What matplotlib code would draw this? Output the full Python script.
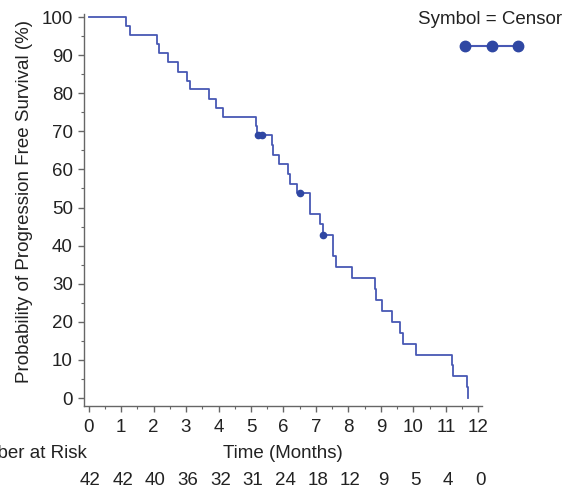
import matplotlib
matplotlib.use("Agg")
import matplotlib.pyplot as plt
import matplotlib.transforms as mtransforms
from matplotlib.lines import Line2D
from matplotlib.ticker import MultipleLocator

plt.rcParams['font.family'] = ['Liberation Sans', 'DejaVu Sans']

# Kaplan-Meier step points (months, % PFS)
times = [0, 1.15, 1.28, 2.10, 2.18, 2.46, 2.74, 3.02, 3.13, 3.70, 3.92, 4.15,
         5.14, 5.20, 5.64, 5.67, 5.86, 6.13, 6.19, 6.41, 6.82, 7.12, 7.22,
         7.51, 7.62, 8.12, 8.82, 8.84, 9.02, 9.34, 9.58, 9.69, 10.07, 11.19,
         11.22, 11.66, 11.69]
surv = [100, 97.6, 95.2, 92.9, 90.5, 88.1, 85.7, 83.3, 81.0, 78.6, 76.2, 73.8,
        71.4, 69.0, 66.4, 63.9, 61.3, 58.8, 56.2, 53.7, 48.3, 45.6, 42.9,
        37.2, 34.3, 31.4, 28.6, 25.7, 22.9, 20.0, 17.1, 14.3, 11.4, 8.6,
        5.7, 2.9, 0]

# censored observations
cens_t = [5.22, 5.33, 6.51, 7.22]
cens_s = [69.0, 69.0, 53.7, 42.9]

# number at risk at each month
risk_months = list(range(13))
at_risk = [42, 42, 40, 36, 32, 31, 24, 18, 12, 9, 5, 4, 0]

line_col = '#4858b4'
mark_col = '#2f47a3'
txt_col = '#222222'
fs = 13.5

fig = plt.figure(figsize=(5.77, 4.90), dpi=100)
ax = fig.add_axes([84 / 577, 1 - 406 / 490, (482 - 84) / 577, (406 - 14) / 490])

ax.step(times, surv, where='post', color=line_col, lw=1.3)
ax.plot(cens_t, cens_s, 'o', color=mark_col, ms=4.5, mec=mark_col)

ax.set_xlim(-0.14, 12.11)
ax.set_ylim(-2.1, 100.8)
ax.xaxis.set_major_locator(MultipleLocator(1))
ax.xaxis.set_minor_locator(MultipleLocator(0.5))
ax.yaxis.set_major_locator(MultipleLocator(10))
ax.yaxis.set_minor_locator(MultipleLocator(5))

for s in ['top', 'right']:
    ax.spines[s].set_visible(False)
for s in ['left', 'bottom']:
    ax.spines[s].set_color('#666666')
    ax.spines[s].set_linewidth(1.0)

ax.tick_params(which='major', direction='out', length=4, width=1, color='#666666',
               labelsize=fs, labelcolor=txt_col)
ax.tick_params(axis='y', which='major', pad=4)
ax.tick_params(axis='x', which='major', pad=5)
ax.tick_params(which='minor', direction='out', length=2.5, width=0.8, color='#666666')

# y title placed by hand (centred a bit above the axes middle, as in the source)
fig.text(25 / 577, 1 - 201 / 490, 'Probability of Progression Free Survival (%)',
         rotation=90, ha='center', va='center', fontsize=fs, color=txt_col)

fig.text(283 / 577, 1 - 453 / 490, 'Time (Months)', ha='center', va='center',
         fontsize=fs, color=txt_col)
fig.text(87 / 577, 1 - 453 / 490, 'Number at Risk', ha='right', va='center',
         fontsize=fs, color=txt_col)

trans = mtransforms.blended_transform_factory(ax.transData, fig.transFigure)
for m, n in zip(risk_months, at_risk):
    ax.text(m + 0.06, 1 - 480 / 490, str(n), transform=trans, ha='center', va='center',
            fontsize=fs, color=txt_col, clip_on=False)

# legend for censor symbol
fig.text(490 / 577, 1 - 20 / 490, 'Symbol = Censor', ha='center', va='center',
         fontsize=fs, color=txt_col)
fig.add_artist(Line2D([465 / 577, 492 / 577, 518 / 577], [1 - 46 / 490] * 3,
                      transform=fig.transFigure, color=line_col, lw=1.5,
                      marker='o', ms=7.5, mfc=mark_col, mec=mark_col))

fig.savefig('out.png', dpi=100)
